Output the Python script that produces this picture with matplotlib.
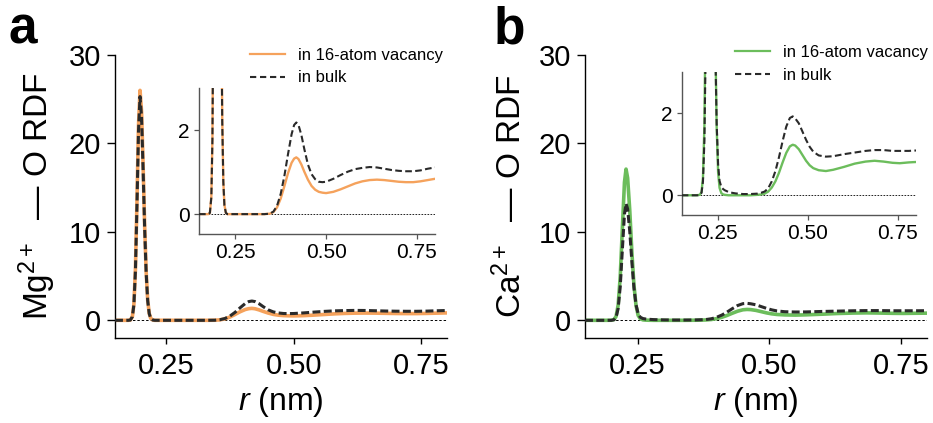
import matplotlib
matplotlib.use('Agg')
import matplotlib.pyplot as plt
from matplotlib.lines import Line2D

plt.rcParams['font.family'] = ['Liberation Sans', 'DejaVu Sans']
plt.rcParams['mathtext.fontset'] = 'custom'
plt.rcParams['mathtext.rm'] = 'Liberation Sans'
plt.rcParams['mathtext.it'] = 'Liberation Sans:italic'

# ---------------- data ----------------
mg_r = [0.15, 0.17, 0.176, 0.180, 0.184, 0.187, 0.190, 0.193, 0.196, 0.199,
        0.202, 0.205, 0.208, 0.211, 0.214, 0.217, 0.220, 0.224, 0.228, 0.234,
        0.30, 0.33,
        0.345, 0.355, 0.365, 0.375, 0.385, 0.395, 0.405, 0.412, 0.418, 0.424, 0.432, 0.44,
        0.45, 0.46, 0.47, 0.48, 0.49, 0.50,
        0.52, 0.54, 0.56, 0.58, 0.60, 0.62, 0.64, 0.66, 0.68, 0.70, 0.72, 0.74, 0.76, 0.78, 0.80]
mg_vacancy = [0, 0, 0, 0.03, 0.41, 1.82, 5.8, 13.4, 22.0, 26.0,
              23.6, 17.6, 10.8, 5.5, 2.28, 0.78, 0.22, 0.03, 0, 0,
              0, 0,
              0.01, 0.05, 0.16, 0.37, 0.66, 0.97, 1.22, 1.32, 1.35, 1.31, 1.18, 1.01,
              0.82, 0.67, 0.58, 0.53, 0.51, 0.50,
              0.53, 0.59, 0.66, 0.73, 0.78, 0.81, 0.82, 0.81, 0.79, 0.77, 0.76, 0.76, 0.78, 0.81, 0.84]
mg_bulk = [0, 0, 0, 0.03, 0.40, 1.77, 5.6, 13.0, 21.4, 25.3,
           23.0, 17.1, 10.5, 5.4, 2.22, 0.76, 0.21, 0.03, 0, 0,
           0, 0,
           0.01, 0.06, 0.20, 0.48, 0.90, 1.42, 1.90, 2.12, 2.18, 2.12, 1.88, 1.55,
           1.18, 0.95, 0.83, 0.77, 0.76, 0.77,
           0.84, 0.93, 1.01, 1.07, 1.10, 1.12, 1.11, 1.08, 1.05, 1.03, 1.02, 1.02, 1.04, 1.08, 1.11]

ca_r = [0.15, 0.19, 0.200, 0.205, 0.209, 0.213, 0.217, 0.221, 0.225, 0.228,
        0.231, 0.235, 0.239, 0.243, 0.247, 0.251, 0.255, 0.260, 0.265, 0.270,
        0.28, 0.29, 0.30, 0.32, 0.34, 0.36,
        0.37, 0.38, 0.39, 0.40, 0.41, 0.42, 0.43, 0.44, 0.45, 0.458,
        0.465, 0.475, 0.485, 0.495, 0.505, 0.515, 0.53, 0.55, 0.57, 0.60,
        0.63, 0.66, 0.685, 0.71, 0.735, 0.755, 0.78, 0.80]
ca_vacancy = [0, 0, 0.01, 0.08, 0.43, 1.72, 4.98, 10.4, 15.6, 17.1,
              16.1, 12.5, 7.8, 4.0, 1.66, 0.56, 0.18, 0.05, 0.02, 0.01,
              0, 0, 0, 0, 0, 0.01,
              0.02, 0.04, 0.09, 0.19, 0.34, 0.55, 0.80, 1.03, 1.19, 1.23,
              1.21, 1.12, 0.98, 0.84, 0.73, 0.66, 0.61, 0.59, 0.62, 0.69,
              0.77, 0.82, 0.84, 0.82, 0.79, 0.78, 0.80, 0.81]
ca_bulk = [0, 0, 0.0, 0.06, 0.33, 1.33, 3.85, 8.0, 12.0, 13.2,
           12.6, 10.1, 6.7, 3.7, 1.75, 0.75, 0.35, 0.20, 0.15, 0.12,
           0.08, 0.06, 0.045, 0.03, 0.03, 0.04,
           0.06, 0.09, 0.17, 0.34, 0.59, 0.93, 1.32, 1.67, 1.88, 1.92,
           1.87, 1.75, 1.55, 1.35, 1.18, 1.06, 0.97, 0.94, 0.95, 1.00,
           1.04, 1.08, 1.10, 1.10, 1.08, 1.08, 1.08, 1.09]

main_yticks = [0, 10, 20, 30]
xticks = [0.25, 0.50, 0.75]
xticklabels = ['0.25', '0.50', '0.75']
inset_yticks = [0, 2]
series_labels = ['in 16-atom vacancy', 'in bulk']

ORANGE = '#f5a25c'
GREEN = '#6cbd5c'
DARK = '#2a2a2a'

W, H = 933, 423
fig = plt.figure(figsize=(W / 100, H / 100), dpi=100)


def px_rect(x0, y0, x1, y1):
    return [x0 / W, 1 - y1 / H, (x1 - x0) / W, (y1 - y0) / H]


def panel(main_box, inset_box, r, vac, bulk, color, ylabel, letter, letter_x, legend_xy):
    ax = fig.add_axes(px_rect(*main_box))
    ax.axhline(0, color='black', lw=0.7, ls=(0, (2.5, 2.0)), zorder=1)
    ax.plot(r, vac, color=color, lw=2.6, zorder=2, solid_capstyle='butt')
    ax.plot(r, bulk, color=DARK, lw=2.2, dashes=(2.6, 1.1), zorder=3)
    ax.set_xlim(0.15, 0.80)
    ax.set_ylim(-2.0, 30)
    ax.set_xticks(xticks)
    ax.set_xticklabels(xticklabels)
    ax.set_yticks(main_yticks)
    for s in ['top', 'right']:
        ax.spines[s].set_visible(False)
    for s in ['left', 'bottom']:
        ax.spines[s].set_linewidth(1.0)
    ax.tick_params(axis='both', labelsize=21, width=1.0)
    ax.tick_params(axis='x', length=4, pad=6)
    ax.tick_params(axis='y', length=6, pad=4)
    ax.set_xlabel('$r$ (nm)', fontsize=23, labelpad=4)
    ax.set_ylabel(ylabel, fontsize=24, labelpad=8)

    handles = [Line2D([], [], color=color, lw=1.6),
               Line2D([], [], color=DARK, lw=1.5, dashes=(3.0, 1.8))]
    ax.legend(handles, series_labels, loc='upper left',
              bbox_to_anchor=(legend_xy[0] / W, 1 - legend_xy[1] / H),
              bbox_transform=fig.transFigure, frameon=False, fontsize=12,
              borderpad=0, borderaxespad=0, handlelength=2.1,
              handletextpad=0.8, labelspacing=0.45)

    fig.text(letter_x / W, 1 - 43 / H, letter, fontsize=37, fontweight='bold',
             ha='left', va='baseline')

    ins = fig.add_axes(px_rect(*inset_box))
    ins.axhline(0, color='black', lw=0.6, ls=(0, (2.0, 1.6)), zorder=1)
    ins.plot(r, vac, color=color, lw=1.7, zorder=2)
    ins.plot(r, bulk, color=DARK, lw=1.5, dashes=(3.2, 1.6), zorder=3)
    ins.set_xlim(0.15, 0.80)
    ins.set_ylim(-0.48, 3.0)
    ins.set_xticks(xticks)
    ins.set_xticklabels(xticklabels)
    ins.set_yticks(inset_yticks)
    for s in ['top', 'right']:
        ins.spines[s].set_visible(False)
    for s in ['left', 'bottom']:
        ins.spines[s].set_linewidth(1.0)
        ins.spines[s].set_color('#555555')
    ins.tick_params(axis='both', labelsize=15, length=3.5, width=0.9, color='#555555', pad=3)
    ins.patch.set_alpha(0)
    return ax, ins


panel((115, 55, 447, 338), (199, 88, 435, 234.3), mg_r, mg_vacancy, mg_bulk, ORANGE,
      'Mg$^{2+}$  — O RDF', 'a', 9, (250, 48))
panel((585, 55, 927, 338), (681.7, 72, 916, 215), ca_r, ca_vacancy, ca_bulk, GREEN,
      'Ca$^{2+}$  — O RDF', 'b', 494, (735, 45))

fig.savefig('out.png', dpi=100)
